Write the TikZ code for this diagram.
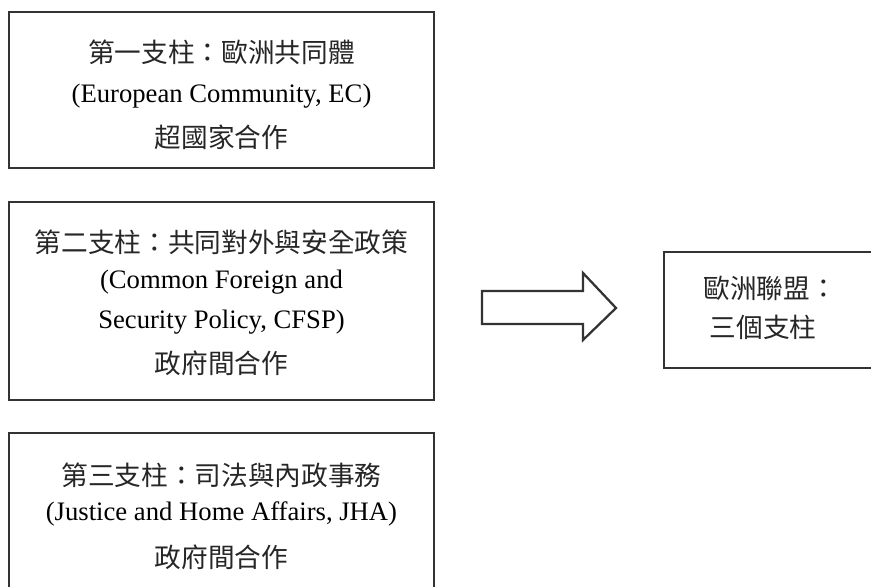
\documentclass[tikz,border=0pt]{standalone}
\usepackage{fontspec}
\setmainfont{Liberation Serif}
\newfontfamily\cjk{Noto Sans CJK TC}
\begin{document}
\begin{tikzpicture}[x=0.75pt,y=-0.75pt,
  frame/.style={draw=black!80,line width=1.7pt,fill=none},
  zh/.style={font=\cjk\fontsize{20}{24}\selectfont,inner sep=0pt,anchor=center,text=black!85},
  en/.style={font=\fontsize{20}{24}\selectfont,inner sep=0pt,anchor=center}]
\useasboundingbox (0,0) rectangle (871,586);
% boxes
\node[frame,minimum width=318.75pt,minimum height=117pt] (b1) at (221.5,90) {};
\node[frame,minimum width=318.75pt,minimum height=148.5pt] (b2) at (221.5,301) {};
\node[frame,minimum width=318.75pt,minimum height=125pt] (b3) at (221.5,516) {};
\node[frame,minimum width=165.75pt,minimum height=87pt] (eu) at (774.5,310) {};
% box 1 text
\node[zh] (t11) at (221.5,52) {第一支柱：歐洲共同體};
\node[en] (t12) at (221.5,96) {(European Community, EC)};
\node[zh] (t13) at (221.5,137) {超國家合作};
% box 2 text
\node[zh] (t21) at (221.5,242) {第二支柱：共同對外與安全政策};
\node[en] (t22) at (221.5,282) {(Common Foreign and};
\node[en] (t23) at (221.5,322) {Security Policy, CFSP)};
\node[zh] (t24) at (221.5,363) {政府間合作};
% box 3 text
\node[zh] (t31) at (221.5,475) {第三支柱：司法與內政事務};
\node[en] (t32) at (221.5,514) {(Justice and Home Affairs, JHA)};
\node[zh] (t33) at (221.5,557) {政府間合作};
% right box text
\node[zh] (t41) at (770,288) {歐洲聯盟：};
\node[zh] (t42) at (763,327) {三個支柱};
% block arrow
\draw[frame,line join=miter] (482,291) -- (583,291) -- (583,273) -- (616,308) -- (583,340) -- (583,324) -- (482,324) -- cycle;
\end{tikzpicture}
\end{document}
